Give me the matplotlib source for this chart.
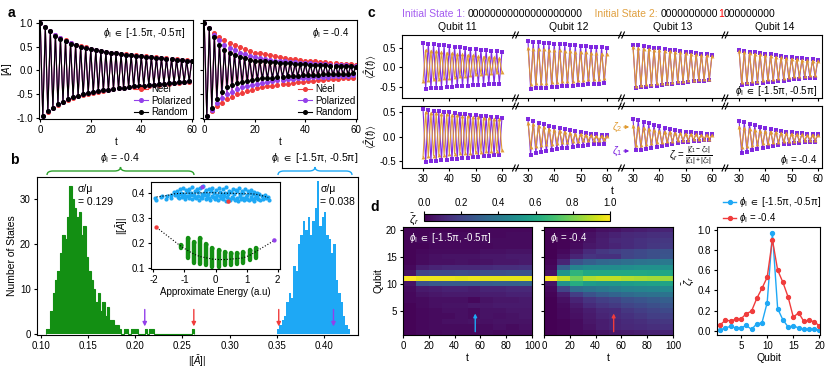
import numpy as np
import matplotlib
matplotlib.use('Agg')
import matplotlib.pyplot as plt
from matplotlib.path import Path
from matplotlib.patches import PathPatch, FancyArrowPatch
from matplotlib.lines import Line2D

plt.rcParams['font.family'] = ['Liberation Sans', 'DejaVu Sans']
plt.rcParams['font.size'] = 7
plt.rcParams['mathtext.fontset'] = 'custom'
plt.rcParams['mathtext.rm'] = 'Liberation Sans'
plt.rcParams['mathtext.it'] = 'Liberation Sans:italic'
plt.rcParams['mathtext.fallback'] = 'stixsans'
plt.rcParams['axes.unicode_minus'] = False
plt.rcParams['axes.linewidth'] = 0.8
plt.rcParams['xtick.major.size'] = 2.5
plt.rcParams['ytick.major.size'] = 2.5
plt.rcParams['xtick.major.width'] = 0.8
plt.rcParams['ytick.major.width'] = 0.8
plt.rcParams['xtick.major.pad'] = 2
plt.rcParams['ytick.major.pad'] = 2

# ---------------- DATA ----------------
# panel a, phi in [-1.5pi,-0.5pi]
neel_L = [1.00,-0.97,0.93,-0.88,0.84,-0.80,0.76,-0.73,0.69,-0.67,0.64,-0.62,0.59,-0.58,0.55,-0.55,0.52,-0.52,0.49,-0.49,0.46,-0.47,0.44,-0.45,0.42,-0.43,0.40,-0.41,0.38,-0.40,0.37,-0.38,0.35,-0.37,0.34,-0.36,0.33,-0.35,0.32,-0.34,0.31,-0.33,0.30,-0.32,0.29,-0.31,0.28,-0.30,0.27,-0.29,0.26,-0.28,0.25,-0.27,0.24,-0.26,0.23,-0.25,0.22,-0.24,0.21]
pol_L = [1.00,-0.97,0.92,-0.87,0.83,-0.79,0.75,-0.72,0.68,-0.66,0.62,-0.61,0.58,-0.57,0.54,-0.54,0.50,-0.51,0.48,-0.48,0.45,-0.46,0.43,-0.44,0.41,-0.42,0.39,-0.41,0.38,-0.39,0.36,-0.38,0.35,-0.37,0.33,-0.35,0.32,-0.34,0.31,-0.33,0.30,-0.32,0.29,-0.31,0.28,-0.30,0.27,-0.29,0.26,-0.28,0.25,-0.27,0.24,-0.26,0.23,-0.25,0.22,-0.24,0.21,-0.23,0.21]
rand_L = [1.00,-0.97,0.92,-0.87,0.83,-0.79,0.74,-0.72,0.67,-0.66,0.62,-0.61,0.57,-0.57,0.53,-0.54,0.50,-0.51,0.47,-0.48,0.45,-0.46,0.43,-0.44,0.41,-0.42,0.39,-0.41,0.37,-0.39,0.36,-0.38,0.34,-0.37,0.33,-0.35,0.32,-0.34,0.31,-0.33,0.30,-0.32,0.29,-0.31,0.28,-0.30,0.27,-0.29,0.26,-0.28,0.25,-0.27,0.24,-0.26,0.23,-0.25,0.22,-0.24,0.21,-0.23,0.20]
# panel a, phi = -0.4
neel_R = [1.00,-0.97,0.90,-0.86,0.80,-0.76,0.71,-0.68,0.64,-0.61,0.58,-0.56,0.53,-0.51,0.49,-0.47,0.45,-0.44,0.41,-0.41,0.38,-0.38,0.36,-0.36,0.34,-0.34,0.32,-0.32,0.30,-0.31,0.28,-0.29,0.27,-0.28,0.25,-0.27,0.24,-0.25,0.22,-0.24,0.21,-0.23,0.20,-0.22,0.19,-0.21,0.18,-0.20,0.17,-0.19,0.16,-0.18,0.15,-0.18,0.14,-0.17,0.14,-0.16,0.13,-0.16,0.12]
pol_R = [1.00,-0.97,0.89,-0.83,0.76,-0.70,0.64,-0.59,0.55,-0.51,0.48,-0.45,0.43,-0.40,0.38,-0.36,0.34,-0.33,0.31,-0.30,0.28,-0.28,0.26,-0.26,0.24,-0.24,0.23,-0.22,0.21,-0.21,0.20,-0.20,0.19,-0.19,0.18,-0.18,0.17,-0.17,0.16,-0.16,0.155,-0.15,0.15,-0.14,0.14,-0.14,0.13,-0.13,0.13,-0.13,0.12,-0.12,0.12,-0.12,0.11,-0.11,0.11,-0.11,0.10,-0.10,0.10]
rand_R = [1.00,-0.97,0.90,-0.80,0.72,-0.60,0.55,-0.45,0.44,-0.36,0.37,-0.30,0.32,-0.27,0.29,-0.24,0.26,-0.22,0.23,-0.20,0.21,-0.18,0.20,-0.17,0.19,-0.16,0.18,-0.15,0.17,-0.14,0.16,-0.13,0.15,-0.12,0.15,-0.11,0.14,-0.11,0.13,-0.10,0.13,-0.10,0.12,-0.09,0.12,-0.09,0.11,-0.08,0.11,-0.08,0.10,-0.08,0.10,-0.07,0.10,-0.07,0.09,-0.07,0.09,-0.06,0.08]
legend_a = ['Néel', 'Polarized', 'Random']

# panel b histograms (bin width 0.0025)
green_start = 0.105
green_counts = [1,1,5,9,12,14,18,22,21,26,33,30,28,26,27,22,24,17,14,12,10,7,9,5,7,4,6,3,3,2,2,1,0,1,1,0,1,1,1,0,0,0,1,0,1,1,
                0,0,0,0,0,0,0,0,0,0,0,0,0,0,0,0,1]
blue_start = 0.350
blue_counts = [1,2,3,4,7,9,8,15,14,20,22,25,23,26,22,25,28,34,24,26,27,22,21,18,20,12,9,7,4,2,1]
arrow_b_x = [0.21, 0.262, 0.352, 0.41]
arrow_b_c = ['purple', 'red', 'red', 'purple']
sigma_green = 0.129
sigma_blue = 0.038

# inset: green columns
inset_green_E = [-1.1,-0.9,-0.7,-0.5,-0.3,-0.1,0.1,0.3,0.5,0.7,0.9,1.1,1.3]
inset_green_lo = [0.180,0.140,0.120,0.115,0.110,0.105,0.105,0.110,0.110,0.115,0.120,0.130,0.140]
inset_green_hi = [0.190,0.220,0.205,0.220,0.195,0.180,0.170,0.165,0.160,0.160,0.165,0.170,0.180]
inset_green_fitE = [-1.9,-1.1,-0.9,-0.7,-0.5,-0.3,-0.1,0.1,0.3,0.5,0.7,0.9,1.1,1.3,1.9]
inset_green_fitA = [0.262,0.185,0.170,0.155,0.145,0.140,0.135,0.133,0.133,0.135,0.137,0.140,0.150,0.165,0.210]
inset_blue_E = [-1.95,-1.75,-1.6,-1.45,-1.35,-1.25,-1.2,-1.15,-1.1,-1.05,-1.0,-0.95,-0.9,-0.85,-0.8,-0.75,-0.7,-0.65,-0.6,-0.55,-0.5,-0.45,-0.4,-0.35,-0.3,-0.25,-0.2,-0.15,-0.1,-0.05,0.0,0.05,0.1,0.15,0.2,0.25,0.3,0.35,0.4,0.45,0.5,0.55,0.6,0.65,0.7,0.75,0.8,0.85,0.9,0.95,1.0,1.05,1.1,1.15,1.2,1.25,1.3,1.35,1.4,1.5,1.6,1.7]
inset_blue_A1 = [0.380,0.385,0.375,0.392,0.405,0.410,0.398,0.415,0.402,0.420,0.395,0.412,0.405,0.418,0.400,0.425,0.392,0.410,0.415,0.403,0.420,0.398,0.428,0.405,0.412,0.396,0.418,0.408,0.422,0.400,0.414,0.392,0.420,0.406,0.398,0.416,0.402,0.424,0.395,0.410,0.404,0.418,0.396,0.412,0.407,0.420,0.398,0.410,0.402,0.416,0.394,0.408,0.400,0.412,0.396,0.405,0.390,0.402,0.395,0.388,0.392,0.385]
inset_blue_A2 = [0.372,0.390,0.388,0.380,0.392,0.386,0.380,0.395,0.385,0.390,0.378,0.388,0.382,0.392,0.376,0.394,0.384,0.380,0.390,0.372,0.386,0.380,0.392,0.376,0.388,0.382,0.374,0.390,0.384,0.378,0.386,0.372,0.388,0.380,0.376,0.390,0.368,0.384,0.378,0.372,0.386,0.380,0.374,0.382,0.370,0.388,0.376,0.382,0.372,0.386,0.378,0.374,0.384,0.376,0.370,0.380,0.385,0.378,0.372,0.376,0.380,0.374]
inset_blue_fitE = [-1.9,-1.6,-1.3,-1.0,-0.7,-0.4,-0.1,0.2,0.5,0.8,1.1,1.3,1.5,1.7]
inset_blue_fitA = [0.385,0.390,0.398,0.400,0.400,0.402,0.402,0.400,0.400,0.398,0.398,0.396,0.390,0.382]
inset_special_E = [-1.9, 1.9, 0.42, -0.42]
inset_special_A = [0.262, 0.210, 0.366, 0.424]
inset_special_c = ['red', 'purple', 'red', 'purple']

# panel c: <Z(t)>, t = 30..60
c_t = list(range(30, 61))
z_r1_q11_s1 = [0.63,-0.55,0.62,-0.54,0.60,-0.53,0.58,-0.52,0.57,-0.51,0.55,-0.50,0.54,-0.49,0.52,-0.48,0.51,-0.47,0.49,-0.46,0.48,-0.45,0.46,-0.45,0.45,-0.44,0.43,-0.43,0.42,-0.42,0.41]
z_r1_q11_s2 = [-0.34,0.45,-0.33,0.43,-0.31,0.42,-0.30,0.40,-0.28,0.38,-0.26,0.37,-0.25,0.35,-0.23,0.34,-0.21,0.32,-0.20,0.31,-0.18,0.29,-0.17,0.28,-0.15,0.27,-0.14,0.26,-0.13,0.25,-0.12]
z_r1_q12_s1 = [0.68,-0.55,0.67,-0.54,0.66,-0.53,0.64,-0.52,0.63,-0.51,0.62,-0.50,0.61,-0.49,0.60,-0.48,0.58,-0.47,0.57,-0.46,0.56,-0.45,0.55,-0.44,0.54,-0.43,0.53,-0.42,0.52,-0.41,0.50]
z_r1_q12_s2 = [0.50,-0.42,0.49,-0.41,0.48,-0.40,0.47,-0.39,0.46,-0.38,0.45,-0.37,0.44,-0.36,0.43,-0.35,0.42,-0.34,0.41,-0.33,0.40,-0.32,0.39,-0.31,0.38,-0.30,0.37,-0.29,0.36,-0.28,0.35]
z_r1_q13_s1 = [0.58,-0.53,0.57,-0.51,0.55,-0.50,0.53,-0.48,0.51,-0.47,0.50,-0.45,0.48,-0.44,0.46,-0.42,0.44,-0.41,0.43,-0.39,0.41,-0.38,0.39,-0.36,0.37,-0.35,0.36,-0.34,0.34,-0.33,0.32]
z_r1_q13_s2 = [0.52,-0.47,0.51,-0.46,0.49,-0.44,0.48,-0.43,0.46,-0.41,0.45,-0.40,0.43,-0.39,0.42,-0.37,0.40,-0.36,0.39,-0.35,0.37,-0.33,0.36,-0.32,0.34,-0.31,0.33,-0.30,0.31,-0.29,0.30]
z_r1_q14_s1 = [0.45,-0.45,0.43,-0.44,0.41,-0.43,0.39,-0.41,0.37,-0.40,0.35,-0.38,0.34,-0.37,0.32,-0.35,0.30,-0.34,0.28,-0.32,0.27,-0.31,0.25,-0.29,0.24,-0.28,0.22,-0.27,0.21,-0.26,0.20]
z_r1_q14_s2 = [0.42,-0.38,0.40,-0.37,0.38,-0.35,0.36,-0.34,0.34,-0.32,0.32,-0.31,0.30,-0.29,0.28,-0.28,0.26,-0.26,0.25,-0.25,0.23,-0.23,0.22,-0.22,0.20,-0.21,0.19,-0.20,0.18,-0.19,0.17]
z_r2_q11_s1 = [0.55,-0.51,0.54,-0.50,0.52,-0.49,0.51,-0.48,0.50,-0.47,0.49,-0.46,0.48,-0.45,0.46,-0.44,0.45,-0.43,0.44,-0.42,0.43,-0.41,0.42,-0.40,0.41,-0.39,0.40,-0.38,0.39,-0.37,0.38]
z_r2_q11_s2 = [-0.41,0.49,-0.40,0.48,-0.39,0.47,-0.38,0.46,-0.37,0.45,-0.36,0.44,-0.35,0.43,-0.34,0.42,-0.33,0.41,-0.33,0.40,-0.32,0.39,-0.31,0.38,-0.30,0.37,-0.30,0.36,-0.29,0.35,-0.28]
z_r2_q12_s1 = [0.35,-0.37,0.31,-0.34,0.28,-0.32,0.25,-0.30,0.22,-0.28,0.20,-0.26,0.17,-0.24,0.15,-0.23,0.13,-0.21,0.11,-0.20,0.09,-0.19,0.08,-0.17,0.06,-0.16,0.05,-0.15,0.04,-0.15,0.03]
z_r2_q12_s2 = [0.28,-0.22,0.25,-0.20,0.22,-0.18,0.19,-0.16,0.16,-0.15,0.14,-0.13,0.12,-0.12,0.10,-0.11,0.08,-0.10,0.06,-0.09,0.05,-0.08,0.04,-0.08,0.03,-0.07,0.02,-0.07,0.02,-0.06,0.01]
z_r2_q13_s1 = [0.35,-0.28,0.33,-0.27,0.30,-0.25,0.27,-0.23,0.24,-0.21,0.21,-0.19,0.18,-0.17,0.16,-0.15,0.14,-0.13,0.12,-0.12,0.10,-0.11,0.09,-0.10,0.08,-0.09,0.07,-0.08,0.06,-0.08,0.05]
z_r2_q13_s2 = [0.22,-0.18,0.20,-0.17,0.18,-0.15,0.16,-0.14,0.14,-0.12,0.12,-0.11,0.10,-0.10,0.09,-0.09,0.08,-0.08,0.07,-0.07,0.06,-0.07,0.05,-0.06,0.05,-0.06,0.04,-0.05,0.04,-0.05,0.03]
z_r2_q14_s1 = [0.32,-0.34,0.29,-0.31,0.26,-0.28,0.23,-0.25,0.20,-0.23,0.18,-0.21,0.16,-0.19,0.14,-0.17,0.12,-0.16,0.10,-0.15,0.09,-0.14,0.08,-0.13,0.07,-0.12,0.06,-0.12,0.05,-0.11,0.05]
z_r2_q14_s2 = [0.20,-0.22,0.18,-0.20,0.16,-0.18,0.14,-0.16,0.12,-0.14,0.11,-0.13,0.10,-0.12,0.09,-0.11,0.08,-0.10,0.07,-0.09,0.06,-0.09,0.05,-0.08,0.05,-0.08,0.04,-0.07,0.04,-0.07,0.03]
c_qubits = ['Qubit 11', 'Qubit 12', 'Qubit 13', 'Qubit 14']
state1 = '00000000000000000000'
state2_a, state2_b, state2_c = '0000000000', '1', '000000000'

# panel d heatmaps: rows = qubit 1..20, columns = t bins 0-10 ... 90-100
t_edges = [0, 10, 20, 30, 40, 50, 60, 70, 80, 90, 100]
hm_mbl = [
 [0.01,0.02,0.02,0.03,0.02,0.02,0.03,0.02,0.03,0.03],
 [0.01,0.02,0.03,0.03,0.03,0.03,0.03,0.04,0.03,0.04],
 [0.01,0.02,0.03,0.04,0.04,0.05,0.04,0.05,0.05,0.05],
 [0.01,0.02,0.03,0.03,0.04,0.03,0.05,0.04,0.05,0.06],
 [0.01,0.02,0.03,0.04,0.04,0.03,0.05,0.05,0.06,0.06],
 [0.01,0.03,0.04,0.05,0.05,0.06,0.06,0.07,0.07,0.07],
 [0.02,0.03,0.04,0.04,0.04,0.02,0.05,0.06,0.06,0.07],
 [0.02,0.05,0.06,0.07,0.07,0.07,0.08,0.08,0.09,0.09],
 [0.03,0.07,0.08,0.09,0.09,0.08,0.10,0.10,0.11,0.11],
 [0.05,0.25,0.27,0.28,0.28,0.28,0.29,0.30,0.30,0.31],
 [1.00,0.97,0.97,0.97,0.96,0.97,0.96,0.96,0.96,0.96],
 [0.05,0.20,0.22,0.22,0.23,0.22,0.24,0.24,0.25,0.25],
 [0.02,0.08,0.10,0.11,0.11,0.11,0.12,0.13,0.13,0.14],
 [0.01,0.03,0.04,0.04,0.05,0.04,0.05,0.06,0.06,0.07],
 [0.01,0.03,0.04,0.05,0.05,0.05,0.06,0.06,0.07,0.07],
 [0.01,0.02,0.03,0.03,0.03,0.03,0.04,0.04,0.05,0.05],
 [0.01,0.01,0.02,0.02,0.02,0.02,0.02,0.03,0.03,0.03],
 [0.01,0.02,0.02,0.02,0.02,0.02,0.03,0.03,0.03,0.03],
 [0.01,0.01,0.02,0.02,0.02,0.02,0.02,0.02,0.03,0.03],
 [0.01,0.01,0.01,0.01,0.01,0.01,0.02,0.02,0.02,0.02]]
hm_erg = [
 [0.00,0.01,0.02,0.03,0.05,0.06,0.07,0.08,0.09,0.10],
 [0.00,0.01,0.03,0.05,0.08,0.10,0.11,0.12,0.13,0.14],
 [0.00,0.01,0.03,0.06,0.08,0.10,0.12,0.13,0.15,0.16],
 [0.00,0.02,0.04,0.07,0.10,0.12,0.14,0.16,0.18,0.19],
 [0.00,0.02,0.05,0.08,0.11,0.12,0.16,0.18,0.20,0.22],
 [0.00,0.03,0.07,0.12,0.15,0.17,0.20,0.22,0.24,0.26],
 [0.00,0.04,0.10,0.15,0.18,0.20,0.24,0.26,0.28,0.30],
 [0.01,0.08,0.18,0.25,0.29,0.32,0.34,0.36,0.37,0.38],
 [0.02,0.20,0.35,0.38,0.40,0.42,0.44,0.45,0.46,0.47],
 [0.05,0.50,0.62,0.55,0.53,0.53,0.55,0.56,0.57,0.58],
 [1.00,0.90,0.78,0.88,0.90,0.90,0.88,0.87,0.86,0.85],
 [0.05,0.52,0.65,0.60,0.60,0.60,0.60,0.60,0.59,0.59],
 [0.02,0.30,0.45,0.48,0.48,0.48,0.49,0.50,0.50,0.50],
 [0.01,0.10,0.25,0.30,0.33,0.34,0.36,0.38,0.39,0.40],
 [0.00,0.04,0.10,0.15,0.14,0.14,0.20,0.22,0.24,0.26],
 [0.00,0.02,0.06,0.12,0.16,0.18,0.20,0.22,0.24,0.25],
 [0.00,0.01,0.03,0.06,0.08,0.10,0.12,0.14,0.16,0.17],
 [0.00,0.01,0.02,0.05,0.08,0.11,0.12,0.14,0.15,0.16],
 [0.00,0.01,0.02,0.04,0.07,0.09,0.11,0.12,0.13,0.14],
 [0.00,0.00,0.01,0.02,0.04,0.05,0.07,0.08,0.09,0.10]]
arrow_d_t = [56, 54]
qubits = list(range(1, 21))
zeta_mbl = [0.01,0.03,0.045,0.03,0.03,0.055,0.015,0.07,0.08,0.28,0.97,0.22,0.11,0.04,0.05,0.03,0.015,0.02,0.015,0.01]
zeta_erg = [0.06,0.105,0.10,0.115,0.12,0.17,0.195,0.32,0.42,0.53,0.90,0.60,0.48,0.335,0.135,0.18,0.095,0.105,0.09,0.05]

# ---------------- STYLE ----------------
RED = '#f03c3c'
PURP = '#9340ea'
GREEN = '#138f13'
BLUE = '#1ea8f5'
CP = '#7a1fe0'
CO = '#e09a30'
MBL_LBL = r'$\phi_{\mathrm{I}}\ \in$ [-1.5π, -0.5π]'
ERG_LBL = r'$\phi_{\mathrm{I}}$ = -0.4'

W, H = 830, 370
fig = plt.figure(figsize=(8.3, 3.7), dpi=100)

def add_ax(l, t, r, b, **kw):
    return fig.add_axes([l / W, 1 - b / H, (r - l) / W, (b - t) / H], **kw)

def fx(x):
    return x / W

def fy(y):
    return 1 - y / H

def ftext(x, y, s, **kw):
    return fig.text(fx(x), fy(y), s, **kw)

def fline(xs, ys, **kw):
    fig.add_artist(Line2D([fx(v) for v in xs], [fy(v) for v in ys], transform=fig.transFigure, **kw))

# ---------------- PANEL A ----------------
ftext(8, 13, 'a', fontsize=10, fontweight='bold', va='center')
for k, (l, r, series, lbl) in enumerate([(39, 193, (neel_L, pol_L, rand_L), MBL_LBL),
                                           (203, 357, (neel_R, pol_R, rand_R), ERG_LBL)]):
    ax = add_ax(l, 20, r, 119)
    for vals, col, name in zip(series, (RED, PURP, 'black'), legend_a):
        ax.plot(np.arange(len(vals)), vals, '-o', color=col, ms=2.6, lw=0.8, label=name)
    ax.set_xlim(-0.5, 60.5)
    ax.set_ylim(-1.03, 1.07)
    ax.set_xticks([0, 20, 40, 60])
    ax.set_yticks([-1, -0.5, 0, 0.5, 1])
    if k == 0:
        ax.set_yticklabels(['-1.0', '-0.5', '0.0', '0.5', '1.0'])
        ax.set_ylabel(r'$[\bar{A}]$', labelpad=1)
    else:
        ax.set_yticklabels([])
    ax.set_xlabel('t', labelpad=1)
    ax.text(0.95, 0.87, lbl, transform=ax.transAxes, ha='right', va='center', fontsize=7)
    ax.legend(loc='lower right', frameon=False, fontsize=7, handlelength=1.4, handletextpad=0.3,
              labelspacing=0.15, borderpad=0.1, borderaxespad=0.1)

# ---------------- PANEL B ----------------
ftext(10, 160, 'b', fontsize=10, fontweight='bold', va='center')
axb = add_ax(37, 177, 358, 335)
bw = 0.0025
g_edges = green_start + bw * np.arange(len(green_counts) + 1)
b_edges = blue_start + bw * np.arange(len(blue_counts) + 1)
axb.stairs(green_counts, g_edges, fill=True, color=GREEN, lw=0)
axb.stairs(green_counts, g_edges, fill=False, color=GREEN, lw=0.8, baseline=0)
axb.stairs(blue_counts, b_edges, fill=True, color=BLUE, lw=0)
axb.set_xlim(0.0958, 0.436)
axb.set_ylim(-0.3, 34.9)
axb.set_xticks([0.10, 0.15, 0.20, 0.25, 0.30, 0.35, 0.40])
axb.set_xticklabels(['0.10', '0.15', '0.20', '0.25', '0.30', '0.35', '0.40'])
axb.set_yticks([0, 10, 20, 30])
axb.set_xlabel(r'$|[\bar{A}]|$', labelpad=1)
axb.set_ylabel('Number of States', labelpad=2, fontsize=7.5)
for xa, ca in zip(arrow_b_x, arrow_b_c):
    col = RED if ca == 'red' else PURP
    axb.annotate('', xy=(xa, 1.0), xytext=(xa, 6.0),
                 arrowprops=dict(arrowstyle='-|>', color=col, lw=1.0, mutation_scale=6))
axb.text(0.1393, 32.2, 'σ/μ', fontsize=7.5, va='center')
axb.text(0.1393, 29.4, '= %.3f' % sigma_green, fontsize=7.5, va='center')
axb.text(0.396, 32.2, 'σ/μ', fontsize=7.5, va='center')
axb.text(0.396, 29.4, '= %.3f' % sigma_blue, fontsize=7.5, va='center')

def brace(x0, x1, y, h, color):
    xm = (x0 + x1) / 2.0
    q = 6
    verts = [(x0, y + h), (x0, y), (x0 + q, y), (xm - q, y), (xm, y), (xm, y - h),
             (xm, y), (xm + q, y), (x1 - q, y), (x1, y), (x1, y + h)]
    codes = [Path.MOVETO, Path.CURVE3, Path.CURVE3, Path.LINETO, Path.CURVE3, Path.CURVE3,
             Path.CURVE3, Path.CURVE3, Path.LINETO, Path.CURVE3, Path.CURVE3]
    vv = [(fx(a), fy(b)) for a, b in verts]
    fig.add_artist(PathPatch(Path(vv, codes), fill=False, edgecolor=color, lw=1.0,
                             transform=fig.transFigure))

brace(47, 194, 171, 4, '#2ca02c')
brace(278, 352, 171, 4, BLUE)
ftext(120, 158, ERG_LBL, ha='center', va='center', fontsize=7.5)
ftext(315, 158, MBL_LBL, ha='center', va='center', fontsize=7.5)

# inset
axi = add_ax(151, 182, 280, 269, zorder=5)
axi.scatter(inset_blue_E, inset_blue_A1, s=9, color=BLUE, lw=0, zorder=2)
axi.scatter([e + 0.03 for e in inset_blue_E], inset_blue_A2, s=9, color=BLUE, lw=0, zorder=2)
axi.plot(inset_blue_fitE, inset_blue_fitA, ':', color='black', lw=0.8, zorder=3)
axi.vlines(inset_green_E, inset_green_lo, inset_green_hi, color=GREEN, lw=3.2, capstyle='round', zorder=2)
axi.scatter(inset_green_E, inset_green_hi, s=9, color=GREEN, lw=0, zorder=2)
axi.plot(inset_green_fitE, inset_green_fitA, ':', color='black', lw=0.8, zorder=3)
axi.scatter(inset_special_E, inset_special_A, s=10, zorder=4,
            color=[RED if c == 'red' else PURP for c in inset_special_c], lw=0)
axi.set_xlim(-2.08, 2.08)
axi.set_ylim(0.095, 0.445)
axi.set_xticks([-2, -1, 0, 1, 2])
axi.set_yticks([0.1, 0.2, 0.3, 0.4])
axi.set_xlabel('Approximate Energy (a.u)', labelpad=1)
axi.set_ylabel(r'$|[\bar{A}]|$', labelpad=1)

# ---------------- PANEL C ----------------
ftext(368, 13, 'c', fontsize=10, fontweight='bold', va='center')
c_cols = [(402, 513), (518, 620), (623, 723), (727, 822)]
c_rows = [(35, 98), (106, 168)]
c_xl = [(22.0, 64.2), (26.2, 65.0), (26.2, 64.2), (25.4, 61.6)]
c_yl = [(-0.79, 0.84), (-0.64, 0.62)]
c_data = [[(z_r1_q11_s1, z_r1_q11_s2), (z_r1_q12_s1, z_r1_q12_s2), (z_r1_q13_s1, z_r1_q13_s2), (z_r1_q14_s1, z_r1_q14_s2)],
          [(z_r2_q11_s1, z_r2_q11_s2), (z_r2_q12_s1, z_r2_q12_s2), (z_r2_q13_s1, z_r2_q13_s2), (z_r2_q14_s1, z_r2_q14_s2)]]
for i, (rt, rb) in enumerate(c_rows):
    for j, (cl, cr) in enumerate(c_cols):
        ax = add_ax(cl, rt, cr, rb)
        s1, s2 = c_data[i][j]
        ax.plot(c_t[:len(s1)], s1, '-s', color=CP, ms=2.8, lw=0.8, mew=0, alpha=0.95)
        ax.plot(c_t[:len(s2)], s2, '-^', color=CO, ms=2.8, lw=0.8, mew=0, alpha=0.95)
        ax.set_xlim(*c_xl[j])
        ax.set_ylim(*c_yl[i])
        ax.set_xticks([30, 40, 50, 60])
        if i == 0:
            ax.set_xticklabels([])
        if j == 0:
            ax.set_yticks([-0.5, 0, 0.5])
            ax.set_yticklabels(['-0.5', '0.0', '0.5'])
            ax.set_ylabel(r'$\langle\hat{Z}(t)\rangle$', labelpad=1)
        else:
            ax.set_yticks([])
            ax.spines['left'].set_visible(False)
        if j < 3:
            ax.spines['right'].set_visible(False)
        ax.patch.set_alpha(0)
        if i == 0:
            ftext((cl + cr) / 2, 27, c_qubits[j], ha='center', va='center', fontsize=7.5)
# bridges and break marks
for y in [35, 98, 106, 168]:
    for (a, b) in [(513, 518), (620, 623), (723, 727)]:
        fline([a, b], [y, y], color='black', lw=0.8)
        m = (a + b) / 2
        for dx in (-1.6, 1.6):
            fline([m + dx - 1.3, m + dx + 1.3], [y + 3, y - 3], color='black', lw=0.8)
ftext(612, 191, 't', ha='center', va='center', fontsize=7.5)
ftext(817, 91, MBL_LBL, ha='right', va='center', fontsize=7)
ftext(817, 160, ERG_LBL, ha='right', va='center', fontsize=7)
ftext(691, 156, r'$\zeta_r = \frac{|\zeta_1 - \zeta_2|}{|\zeta_1|+|\zeta_2|}$', ha='center', va='center', fontsize=7)
ftext(617, 127, r'$\zeta_2$', color=CO, ha='center', va='center', fontsize=7.5)
ftext(617, 151, r'$\zeta_1$', color=CP, ha='center', va='center', fontsize=7.5)
for yy, cc in [(127, CO), (151, CP)]:
    fig.add_artist(FancyArrowPatch((fx(621), fy(yy)), (fx(632), fy(yy)), transform=fig.transFigure,
                                   arrowstyle='-|>', mutation_scale=5, color=cc, lw=0.8))
# header
fig.canvas.draw()
ren = fig.canvas.get_renderer()
x = 402
for s, col in [('Initial State 1: ', '#a45cf0'), (state1, 'black'), ('    Initial State 2: ', '#e0a040'),
               (state2_a, 'black'), (state2_b, 'red'), (state2_c, 'black')]:
    tt = ftext(x, 14, s, color=col, ha='left', va='center', fontsize=7.5)
    bb = tt.get_window_extent(renderer=ren)
    x += bb.width

# ---------------- PANEL D ----------------
ftext(370, 207, 'd', fontsize=10, fontweight='bold', va='center')
cmap = plt.get_cmap('viridis')
q_edges = np.arange(0.5, 21.0, 1.0)
for k, (l, r, mat, lbl, at, acol) in enumerate([(403, 532, hm_mbl, MBL_LBL, arrow_d_t[0], BLUE),
                                                  (544, 673, hm_erg, ERG_LBL, arrow_d_t[1], RED)]):
    ax = add_ax(l, 227, r, 335)
    mesh = ax.pcolormesh(t_edges, q_edges, np.array(mat), cmap=cmap, vmin=0, vmax=1)
    ax.set_xlim(0, 100)
    ax.set_ylim(0.5, 20.5)
    ax.set_xticks([0, 20, 40, 60, 80, 100])
    ax.set_yticks([5, 10, 15, 20])
    if k == 0:
        ax.set_ylabel('Qubit', labelpad=2, fontsize=7.5)
    else:
        ax.set_yticklabels([])
    ax.set_xlabel('t', labelpad=1, fontsize=7.5)
    ax.text(0.05, 0.9, lbl, transform=ax.transAxes, color='white', ha='left', va='center', fontsize=7)
    ax.annotate('', xy=(at, 5.0), xytext=(at, 0.6),
                arrowprops=dict(arrowstyle='-|>', color=acol, lw=1.0, mutation_scale=5))
cax = add_ax(424, 214, 610, 221)
cb = fig.colorbar(mesh, cax=cax, orientation='horizontal')
cax.xaxis.set_ticks_position('top')
cb.set_ticks([0, 0.2, 0.4, 0.6, 0.8, 1.0])
cb.set_ticklabels(['0.0', '0.2', '0.4', '0.6', '0.8', '1.0'])
cb.outline.set_linewidth(0.8)
ftext(414, 219, r'$\bar{\zeta}_r$', ha='center', va='center', fontsize=8)

axl = add_ax(717, 227, 820, 335)
l1, = axl.plot(qubits, zeta_mbl, '-o', color=BLUE, ms=2.8, lw=1.0, label=MBL_LBL)
l2, = axl.plot(qubits, zeta_erg, '-o', color=RED, ms=2.8, lw=1.0, label=ERG_LBL)
axl.set_xlim(0.4, 20.1)
axl.set_ylim(-0.04, 1.025)
axl.set_xticks([5, 10, 15, 20])
axl.set_yticks([0, 0.2, 0.4, 0.6, 0.8, 1.0])
axl.set_yticklabels(['0.0', '0.2', '0.4', '0.6', '0.8', '1.0'])
axl.set_xlabel('Qubit', labelpad=1, fontsize=7.5)
axl.set_ylabel(r'$\bar{\zeta}_r$', labelpad=1, fontsize=8)
fig.legend(handles=[l1, l2], loc='center left', bbox_to_anchor=(fx(718), fy(210)), frameon=False,
           fontsize=7, handlelength=1.4, handletextpad=0.3, labelspacing=0.2, borderpad=0)

fig.savefig('out.png', dpi=100)
